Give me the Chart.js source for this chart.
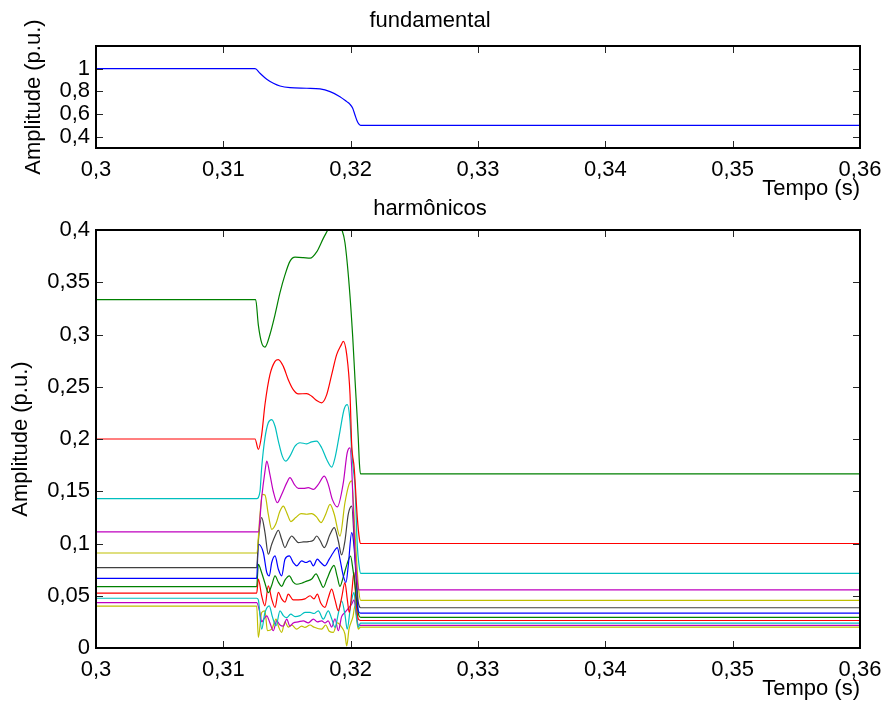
<!DOCTYPE html>
<html>
<head>
<meta charset="utf-8">
<script src="https://cdn.jsdelivr.net/npm/chart.js@4.4.1/dist/chart.umd.min.js"></script>
<style>
  html, body { margin: 0; padding: 0; background: #ffffff; }
  .box { position: absolute; left: 0; width: 887px; }
</style>
</head>
<body>
<div class="box" style="top:0;height:210px"><canvas id="fund" width="887" height="210"></canvas></div>
<div class="box" style="top:190px;height:525px"><canvas id="harm" width="887" height="525"></canvas></div>
<script>
// ---------- tick values / labels ----------
const xTickValues = [0.3, 0.31, 0.32, 0.33, 0.34, 0.35, 0.36];
const xTickLabels = ['0,3', '0,31', '0,32', '0,33', '0,34', '0,35', '0,36'];
const fundYTickValues = [0.4, 0.6, 0.8, 1];
const fundYTickLabels = ['0,4', '0,6', '0,8', '1'];
const harmYTickValues = [0, 0.05, 0.1, 0.15, 0.2, 0.25, 0.3, 0.35, 0.4];
const harmYTickLabels = ['0', '0,05', '0,1', '0,15', '0,2', '0,25', '0,3', '0,35', '0,4'];

// ---------- series: [time (s), amplitude (p.u.)] ----------
const fundamental = [[0.3,1],[0.31249,1],[0.31288,0.959],[0.31341,0.906],[0.31393,0.871],[0.31445,0.847],[0.31524,0.832],[0.31655,0.827],[0.31759,0.821],[0.31838,0.797],[0.31916,0.753],[0.31969,0.709],[0.31995,0.685],[0.32016,0.650],[0.32034,0.591],[0.32050,0.540],[0.32065,0.510],[0.32079,0.5],[0.36,0.5]];

const h3 = [[0.3,0.3333],[0.31254,0.3333],[0.31275,0.309],[0.31301,0.292],[0.31327,0.288],[0.31366,0.300],[0.31406,0.319],[0.31445,0.340],[0.31484,0.357],[0.31523,0.370],[0.31563,0.374],[0.31628,0.3736],[0.31681,0.373],[0.31733,0.379],[0.31785,0.392],[0.31824,0.401],[0.31877,0.415],[0.31929,0.401],[0.31955,0.388],[0.31989,0.346],[0.32016,0.298],[0.32034,0.257],[0.32052,0.219],[0.32060,0.2],[0.32069,0.176],[0.32077,0.1667],[0.36,0.1667]];

const h5 = [[0.3,0.2],[0.31249,0.2],[0.31275,0.190],[0.31301,0.204],[0.31327,0.233],[0.31366,0.2616],[0.31406,0.2743],[0.31432,0.276],[0.31471,0.2695],[0.31510,0.2568],[0.31549,0.2473],[0.31589,0.2432],[0.31655,0.2434],[0.31694,0.2409],[0.31733,0.2368],[0.31772,0.2346],[0.31812,0.2425],[0.31851,0.2616],[0.31890,0.2807],[0.31924,0.2896],[0.31942,0.2934],[0.31969,0.2807],[0.31995,0.2425],[0.32008,0.195],[0.32028,0.172],[0.32052,0.125],[0.32069,0.104],[0.32079,0.1],[0.36,0.1]];

const h7 = [[0.3,0.1429],[0.31262,0.1429],[0.31288,0.150],[0.31301,0.1725],[0.31327,0.201],[0.31353,0.2155],[0.31380,0.2186],[0.31406,0.2122],[0.31432,0.198],[0.31463,0.1836],[0.31490,0.1788],[0.31523,0.1836],[0.31563,0.1931],[0.31602,0.1964],[0.31655,0.1954],[0.31694,0.1973],[0.31733,0.198],[0.31772,0.1916],[0.31812,0.1804],[0.31851,0.1731],[0.31877,0.182],[0.31916,0.2074],[0.31948,0.2282],[0.31973,0.2329],[0.31995,0.217],[0.32008,0.1884],[0.32021,0.1709],[0.32034,0.155],[0.32052,0.098],[0.32065,0.080],[0.32079,0.0714],[0.36,0.0714]];

const h9 = [[0.3,0.1111],[0.31275,0.1111],[0.31301,0.1439],[0.31327,0.169],[0.31341,0.1788],[0.31366,0.166],[0.31392,0.150],[0.31424,0.139],[0.31458,0.147],[0.31498,0.158],[0.31523,0.163],[0.31557,0.1566],[0.31589,0.1527],[0.31628,0.1527],[0.31667,0.1534],[0.31707,0.1518],[0.31746,0.1566],[0.31793,0.1645],[0.31824,0.1566],[0.31856,0.1422],[0.31895,0.135],[0.31942,0.158],[0.31973,0.187],[0.31995,0.1916],[0.32008,0.1725],[0.32022,0.128],[0.32034,0.0916],[0.32050,0.0659],[0.32065,0.0556],[0.36,0.0556]];

const h11 = [[0.3,0.0909],[0.31262,0.0909],[0.31288,0.128],[0.31306,0.147],[0.31327,0.1464],[0.31353,0.128],[0.31380,0.1136],[0.31411,0.1184],[0.31445,0.131],[0.31471,0.1358],[0.31498,0.1295],[0.31531,0.121],[0.31568,0.1248],[0.31610,0.1286],[0.31655,0.128],[0.31694,0.1286],[0.31733,0.1253],[0.31767,0.12],[0.31804,0.128],[0.31838,0.1375],[0.31871,0.128],[0.31916,0.107],[0.31955,0.139],[0.31987,0.1566],[0.32008,0.160],[0.32034,0.110],[0.32060,0.0595],[0.32079,0.0455],[0.36,0.0455]];

const h13 = [[0.3,0.0769],[0.31262,0.0769],[0.31275,0.1024],[0.31301,0.1248],[0.31327,0.1105],[0.31353,0.0897],[0.31380,0.0993],[0.31406,0.1072],[0.31432,0.1127],[0.31458,0.104],[0.31484,0.0961],[0.31510,0.1024],[0.31537,0.1072],[0.31563,0.104],[0.31589,0.1009],[0.31628,0.1015],[0.31667,0.1018],[0.31707,0.1031],[0.31733,0.1072],[0.31759,0.1031],[0.31793,0.0961],[0.31838,0.1088],[0.31871,0.1152],[0.31903,0.1024],[0.31929,0.0891],[0.31955,0.1024],[0.31981,0.128],[0.32008,0.1358],[0.32034,0.0881],[0.32060,0.0436],[0.32079,0.0385],[0.36,0.0385]];

const h15 = [[0.3,0.0667],[0.31262,0.0667],[0.31275,0.0993],[0.31314,0.0914],[0.31341,0.0723],[0.31361,0.069],[0.31380,0.0818],[0.31406,0.0881],[0.31432,0.0754],[0.31458,0.069],[0.31484,0.085],[0.31518,0.0881],[0.31549,0.0818],[0.31576,0.0786],[0.31615,0.0833],[0.31649,0.0818],[0.31681,0.0833],[0.31707,0.0786],[0.31738,0.085],[0.31765,0.0818],[0.31798,0.0786],[0.31832,0.085],[0.31864,0.0914],[0.31895,0.0961],[0.31916,0.085],[0.31942,0.069],[0.31963,0.0627],[0.31981,0.0786],[0.32008,0.1105],[0.32026,0.0977],[0.32042,0.069],[0.32060,0.0356],[0.32077,0.0333],[0.36,0.0333]];

const h17 = [[0.3,0.0588],[0.31262,0.0588],[0.31275,0.080],[0.31301,0.072],[0.31327,0.062],[0.31353,0.053],[0.31380,0.060],[0.31406,0.069],[0.31432,0.063],[0.31458,0.059],[0.31484,0.065],[0.31518,0.069],[0.31549,0.063],[0.31576,0.061],[0.31615,0.062],[0.31655,0.064],[0.31694,0.066],[0.31728,0.071],[0.31759,0.064],[0.31785,0.058],[0.31814,0.066],[0.31845,0.075],[0.31869,0.079],[0.31895,0.068],[0.31916,0.059],[0.31942,0.068],[0.31971,0.080],[0.31999,0.088],[0.32018,0.075],[0.32034,0.060],[0.32050,0.042],[0.32065,0.031],[0.32079,0.0294],[0.36,0.0294]];

const h19 = [[0.3,0.0526],[0.31262,0.0526],[0.31275,0.0659],[0.31301,0.050],[0.31327,0.0404],[0.31353,0.0595],[0.31380,0.0468],[0.31406,0.0389],[0.31432,0.0532],[0.31458,0.047],[0.31484,0.044],[0.31510,0.0516],[0.31549,0.046],[0.31589,0.046],[0.31641,0.047],[0.31681,0.050],[0.31712,0.047],[0.31738,0.0516],[0.31765,0.043],[0.31798,0.0389],[0.31824,0.048],[0.31851,0.0563],[0.31877,0.046],[0.31903,0.0356],[0.31929,0.048],[0.31955,0.0627],[0.31973,0.047],[0.31989,0.034],[0.32010,0.055],[0.32026,0.0723],[0.32042,0.045],[0.32060,0.0277],[0.32077,0.0263],[0.36,0.0263]];

const h21 = [[0.3,0.0476],[0.31262,0.0476],[0.31275,0.046],[0.31301,0.018],[0.31327,0.034],[0.31361,0.0404],[0.31385,0.030],[0.31414,0.0213],[0.31445,0.0356],[0.31471,0.031],[0.31498,0.029],[0.31529,0.0325],[0.31563,0.030],[0.31602,0.031],[0.31641,0.034],[0.31681,0.034],[0.31712,0.033],[0.31746,0.0356],[0.31785,0.0277],[0.31824,0.0356],[0.31851,0.028],[0.31877,0.0198],[0.31903,0.033],[0.31929,0.0452],[0.31955,0.032],[0.31973,0.018],[0.31999,0.040],[0.32026,0.0532],[0.32042,0.035],[0.32060,0.0198],[0.32077,0.0238],[0.36,0.0238]];

const h23 = [[0.3,0.0435],[0.31262,0.0435],[0.31288,0.033],[0.31301,0.025],[0.31320,0.028],[0.31341,0.0308],[0.31366,0.024],[0.31392,0.0165],[0.31419,0.026],[0.31445,0.022],[0.31471,0.021],[0.31498,0.0277],[0.31523,0.021],[0.31549,0.024],[0.31589,0.025],[0.31628,0.026],[0.31667,0.024],[0.31707,0.0277],[0.31738,0.025],[0.31772,0.026],[0.31798,0.024],[0.31824,0.026],[0.31851,0.020],[0.31877,0.028],[0.31903,0.0165],[0.31929,0.030],[0.31955,0.034],[0.31981,0.038],[0.32008,0.042],[0.32026,0.046],[0.32042,0.035],[0.32060,0.022],[0.32077,0.0217],[0.36,0.0217]];

const h25 = [[0.3,0.04],[0.31262,0.04],[0.31275,0.0102],[0.31301,0.034],[0.31327,0.0356],[0.31346,0.0165],[0.31380,0.018],[0.31414,0.0277],[0.31432,0.021],[0.31458,0.015],[0.31484,0.025],[0.31510,0.020],[0.31537,0.022],[0.31576,0.018],[0.31615,0.021],[0.31641,0.0198],[0.31681,0.022],[0.31712,0.020],[0.31772,0.018],[0.31804,0.022],[0.31832,0.016],[0.31864,0.015],[0.31895,0.024],[0.31929,0.020],[0.31955,0.0134],[0.31969,0.002],[0.31987,0.018],[0.32018,0.030],[0.32034,0.0404],[0.32046,0.028],[0.32060,0.018],[0.32077,0.02],[0.36,0.02]];

const harmonics = [h3, h5, h7, h9, h11, h13, h15, h17, h19, h21, h23, h25];
const harmonicColors = ['#008000', '#ff0000', '#00bfbf', '#bf00bf', '#bfbf00', '#404040',
                        '#0000ff', '#008000', '#ff0000', '#00bfbf', '#bf00bf', '#bfbf00'];

// ---------- helpers ----------
const FONT = { family: '"Liberation Sans", Arial, Helvetica, sans-serif', size: 22, weight: 'normal' };

const boxPlugin = {
  id: 'matlabBox',
  afterDatasetsDraw(chart) {
    const { ctx, chartArea } = chart;
    const { left, right, top, bottom } = chartArea;
    const xs = chart.scales.x, ys = chart.scales.y;
    const L = 7;
    ctx.save();
    ctx.strokeStyle = '#262626';
    ctx.lineWidth = 1;
    ctx.beginPath();
    xs.ticks.forEach(t => {
      const p = Math.round(xs.getPixelForValue(t.value)) + 0.5;
      if (p <= left + 2 || p >= right - 2) return;
      ctx.moveTo(p, bottom); ctx.lineTo(p, bottom - L);
      ctx.moveTo(p, top); ctx.lineTo(p, top + L);
    });
    ys.ticks.forEach(t => {
      const p = Math.round(ys.getPixelForValue(t.value)) + 0.5;
      if (p <= top + 2 || p >= bottom - 2) return;
      ctx.moveTo(left, p); ctx.lineTo(left + L, p);
      ctx.moveTo(right, p); ctx.lineTo(right - L, p);
    });
    ctx.stroke();
    ctx.strokeStyle = '#000';
    ctx.lineWidth = 2;
    ctx.strokeRect(left, top, right - left, bottom - top);
    ctx.restore();
  }
};

function makeChart(canvasId, cfg) {
  const datasets = cfg.series.map((s, i) => ({
    data: s.map(p => ({ x: p[0], y: p[1] })),
    borderColor: cfg.colors[i],
    borderWidth: 1.2,
    pointRadius: 0,
    fill: false,
    cubicInterpolationMode: 'monotone'
  }));
  return new Chart(document.getElementById(canvasId), {
    type: 'line',
    data: { datasets },
    plugins: [boxPlugin],
    options: {
      responsive: false,
      animation: false,
      devicePixelRatio: 1,
      layout: { padding: { left: 0, right: 27, top: 0, bottom: 0 } },
      plugins: {
        legend: { display: false },
        tooltip: { enabled: false },
        title: {
          display: true, text: cfg.title, color: '#000',
          font: FONT, padding: cfg.titlePadding
        }
      },
      scales: {
        x: {
          type: 'linear', min: 0.3, max: 0.36,
          grid: { display: false, drawTicks: false },
          border: { display: false },
          afterBuildTicks: s => { s.ticks = xTickValues.map(v => ({ value: v })); },
          afterFit: s => { s.height = cfg.xHeight; s.paddingRight = 0; s.paddingLeft = 0; },
          ticks: {
            color: '#000', font: FONT, padding: 8.5, autoSkip: false, maxRotation: 0,
            callback: (v, i) => xTickLabels[i]
          },
          title: {
            display: true, text: 'Tempo (s)', align: 'end', color: '#000', font: FONT,
            padding: { top: 0, bottom: cfg.xTitlePad }
          }
        },
        y: {
          type: 'linear', min: cfg.yMin, max: cfg.yMax,
          grid: { display: false, drawTicks: false },
          border: { display: false },
          afterBuildTicks: s => { s.ticks = cfg.yTicks.map(v => ({ value: v })); },
          afterFit: s => { s.width = 96; },
          ticks: {
            color: '#000', font: FONT, padding: 6, autoSkip: false,
            callback: (v, i) => cfg.yLabels[i]
          },
          title: {
            display: true, text: 'Amplitude (p.u.)', color: '#000', font: FONT,
            padding: { top: cfg.yTitlePad, bottom: 0 }
          }
        }
      }
    }
  });
}

makeChart('fund', {
  title: 'fundamental',
  titlePadding: { top: 7.8, bottom: 11.8 },
  series: [fundamental], colors: ['#0000ff'],
  yMin: 0.3, yMax: 1.2, yTicks: fundYTickValues, yLabels: fundYTickLabels,
  xHeight: 62, xTitlePad: 7.8, yTitlePad: 20.9
});

makeChart('harm', {
  title: 'harmônicos',
  titlePadding: { top: 6.2, bottom: 7.4 },
  series: harmonics, colors: harmonicColors,
  yMin: 0, yMax: 0.4, yTicks: harmYTickValues, yLabels: harmYTickLabels,
  xHeight: 67, xTitlePad: 12.8, yTitlePad: 7.6
});
</script>
</body>
</html>
